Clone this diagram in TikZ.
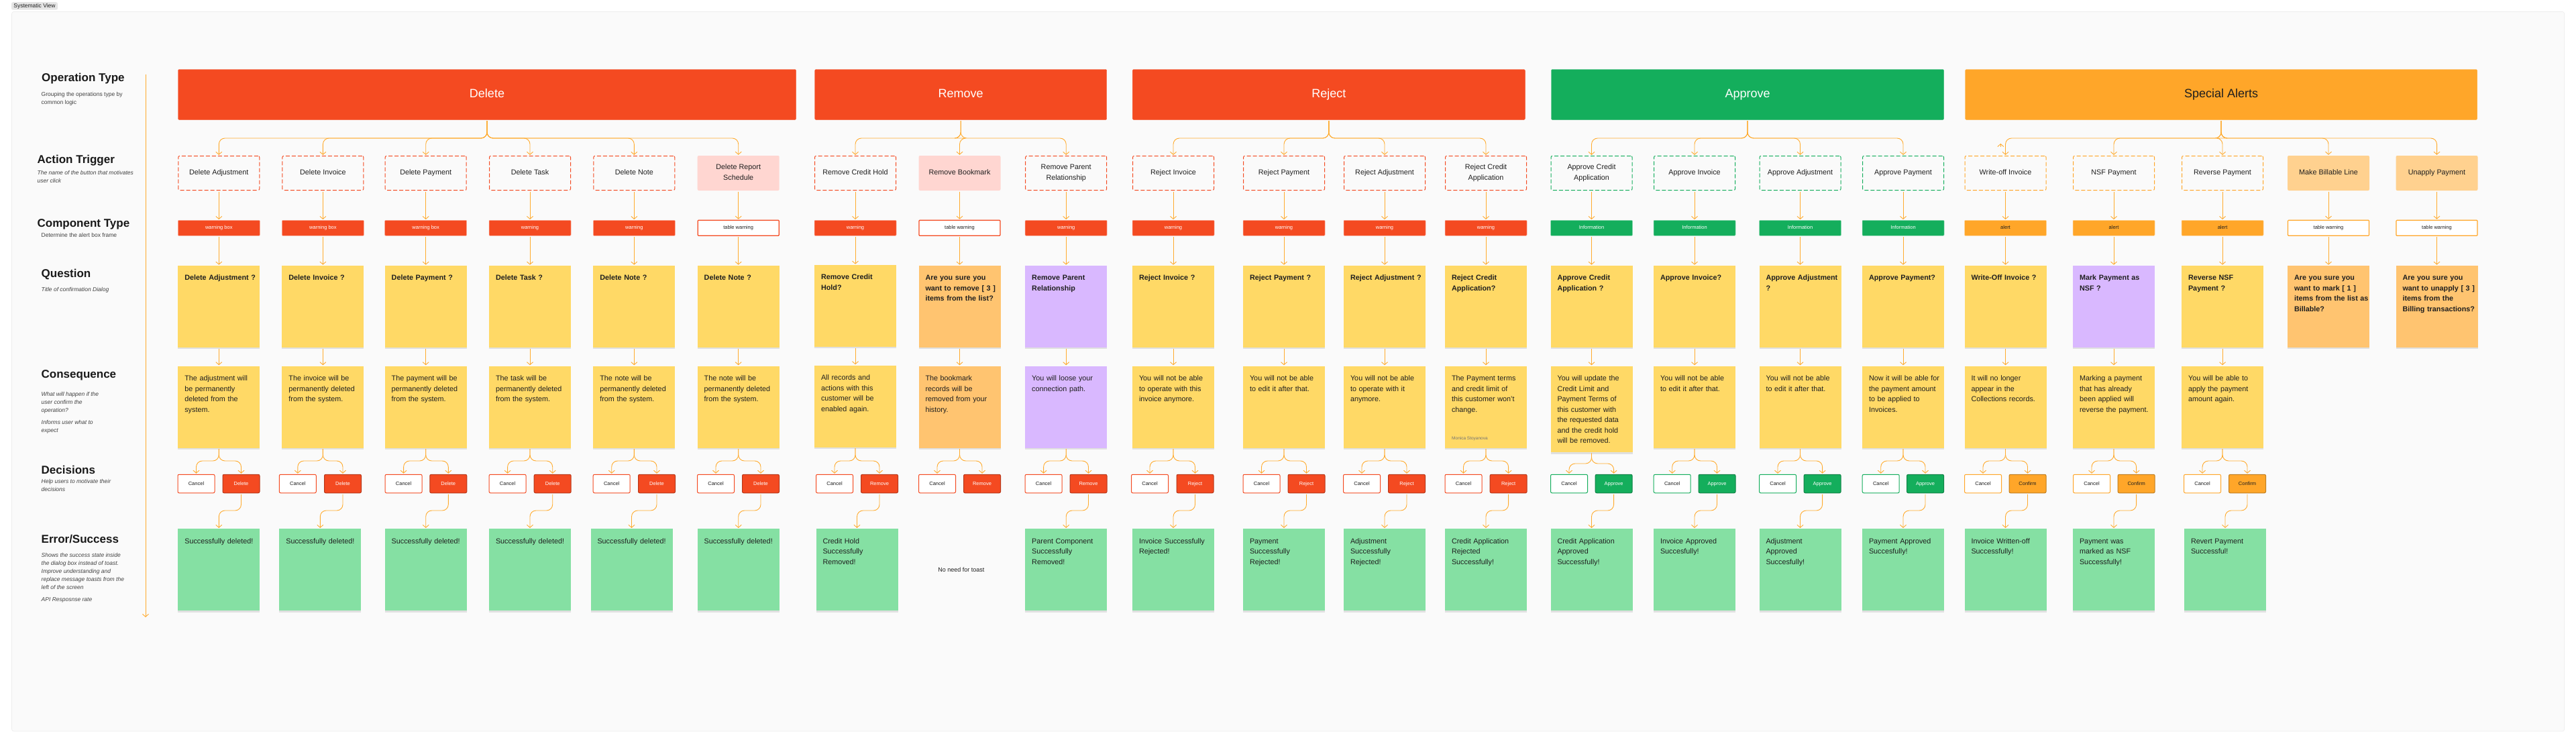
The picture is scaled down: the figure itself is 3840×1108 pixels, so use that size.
\documentclass[tikz,border=0pt]{standalone}
\usepackage{fontspec}
\setmainfont{Liberation Sans}
\usepackage{xcolor}
\usetikzlibrary{calc,arrows.meta,shadows}
\definecolor{redOp}{HTML}{F44A21}
\definecolor{greenOp}{HTML}{14AE5C}
\definecolor{orangeOp}{HTML}{FFA629}
\definecolor{yellowNote}{HTML}{FFD966}
\definecolor{orangeNote}{HTML}{FFC470}
\definecolor{purpleNote}{HTML}{D9B8FF}
\definecolor{greenNote}{HTML}{85E0A3}
\definecolor{pinkTrig}{HTML}{FFD6D1}
\definecolor{sandTrig}{HTML}{FFD18F}
\definecolor{panel}{HTML}{FAFAFA}
\definecolor{ink}{HTML}{1E1E1E}
\definecolor{flowLine}{HTML}{FFAB2E}
\tikzset{
  panelBox/.style={fill=panel, draw=black!7, line width=.6pt, rounded corners=3pt},
  tabBox/.style={fill=black!10, rounded corners=2.5pt, inner sep=0pt, minimum width=69pt, minimum height=11.5pt, text=ink, font=\fontsize{8.5}{10}\selectfont},
  rowTitle/.style={anchor=west, inner sep=0pt, text=black!90, font=\bfseries\fontsize{17}{20}\selectfont},
  rowNote/.style={anchor=north west, inner sep=0pt, align=left, text=black!75, font=\fontsize{8.5}{12}\selectfont},
  rowNoteIt/.style={rowNote, font=\itshape\fontsize{8.5}{12}\selectfont},
  opBox/.style={fill=#1, draw=#1, rounded corners=1.5pt, inner sep=0pt, minimum height=75pt, text height=13pt, text depth=4pt, text=white, font=\fontsize{18}{22}\selectfont},
  trigBox/.style={draw=#1, fill=panel, line width=1pt, dash pattern=on 6pt off 3pt, rounded corners=2pt, inner sep=0pt, minimum width=121pt, minimum height=51pt, align=center, text height=8pt, text depth=3pt, text=ink, font=\fontsize{10.8}{15.5}\selectfont},
  trigFill/.style={fill=#1, rounded corners=2pt, inner sep=0pt, minimum width=122pt, minimum height=52pt, align=center, text height=8pt, text depth=3pt, text=ink, font=\fontsize{10.8}{15.5}\selectfont},
  trigTwo/.style={text height=23.5pt},
  compBox/.style={fill=#1, draw=#1!45, line width=.5pt, rounded corners=1pt, inner sep=0pt, minimum width=122pt, minimum height=23pt, text height=5.5pt, text depth=1.5pt, text=white, font=\fontsize{7.5}{9}\selectfont},
  compLine/.style={fill=white, draw=#1, line width=1.2pt, rounded corners=1pt, inner sep=0pt, minimum width=121pt, minimum height=23pt, text height=5.5pt, text depth=1.5pt, text=ink, font=\fontsize{7.5}{9}\selectfont},
  sticky/.style={fill=#1, anchor=north, rectangle, inner xsep=0pt, inner ysep=0pt, text width=122pt, align=left, execute at begin node={\leftskip=10pt\relax}, text height=22pt, text depth=100pt, text=ink, drop shadow={shadow xshift=0pt, shadow yshift=-2.5pt, fill=black, opacity=.1}},
  askBox/.style={sticky=#1, font=\bfseries\fontsize{10.8}{15.5}\selectfont},
  noteBox/.style={sticky=#1, font=\fontsize{10.8}{15.5}\selectfont},
  cancelBtn/.style={fill=white, draw=#1, line width=1pt, rounded corners=2pt, inner sep=0pt, minimum width=55pt, minimum height=27.5pt, text height=5.5pt, text depth=1.5pt, text=ink, font=\fontsize{7.5}{9}\selectfont},
  actBtn/.style={fill=#1, draw=#1!75!black, line width=1pt, rounded corners=2pt, inner sep=0pt, minimum width=55pt, minimum height=27.5pt, text height=5.5pt, text depth=1.5pt, text=white, font=\fontsize{7.5}{9}\selectfont},
  flow/.style={draw=flowLine, line width=.9pt, shorten <=1.5pt, shorten >=1pt, -{Straight Barb[length=4pt,width=9pt]}},
  branch/.style={flow, rounded corners=9pt}
}
\begin{document}
\begin{tikzpicture}[x=1pt,y=-1pt]
\fill[white] (0,0) rectangle (3840,1108);
\useasboundingbox (0,0) rectangle (3840,1108);
\filldraw[panelBox] (17.5,17.5) rectangle (3822.7,1090);
\node[tabBox] (viewTab) at (51.5,9) {Systematic View};

\coordinate (axisTop) at (217,109);
\coordinate (axisEnd) at (217,921);
\coordinate (forkOp) at (0,206);
\coordinate (forkBtn) at (0,687);
\coordinate (forkBtnLow) at (0,691);
\coordinate (forkRes) at (0,761);
\coordinate (strayFoot) at (2982.3,220);
\coordinate (strayTip) at (2982.3,213);

\node[rowTitle] (titleOp) at (62,117) {Operation Type};
\node[rowNote] (noteOp) at (61.5,137) {Grouping the operations type by\\common logic};
\node[rowTitle] (titleTrig) at (55.5,239) {Action Trigger};
\node[rowNoteIt] (noteTrig) at (55.5,254) {The name of the button that motivates\\user click};
\node[rowTitle] (titleComp) at (55.5,334) {Component Type};
\node[rowNote] (noteComp) at (61.5,347.5) {Determine the alert box frame};
\node[rowTitle] (titleAsk) at (61.5,409.5) {Question};
\node[rowNoteIt] (noteAsk) at (61.5,428.5) {Title of confirmation Dialog};
\node[rowTitle] (titleNote) at (61.5,559) {Consequence};
\node[rowNoteIt] (noteNote) at (61.5,584.5) {What will happen if the\\user confirm the\\operation?};
\node[rowNoteIt] (noteNoteB) at (61.5,626.5) {Informs user what to\\expect};
\node[rowTitle] (titleBtn) at (61.5,700) {Decisions};
\node[rowNoteIt] (noteBtn) at (61.5,714) {Help users to motivate their\\decisions};
\node[rowTitle] (titleRes) at (61.5,804) {Error/Success};
\node[rowNoteIt] (noteRes) at (61.5,824) {Shows the success state inside\\the dialog box instead of toast.\\Improve understanding and\\replace message toasts from the\\left of the screen};
\node[rowNoteIt] (noteResB) at (61.5,890) {API Resposnse rate};

\node[opBox=redOp, minimum width=921pt] (opDelete) at (726,141) {Delete};
\node[opBox=redOp, minimum width=435pt] (opRemove) at (1432.2,141) {Remove};
\node[opBox=redOp, minimum width=585pt] (opReject) at (1980.8,141) {Reject};
\node[opBox=greenOp, minimum width=585pt] (opApprove) at (2605,141) {Approve};
\node[opBox=orangeOp, minimum width=763pt, text=ink] (opSpecial) at (3311,141) {Special Alerts};

\node[trigBox=redOp] (trig1) at (326.3,258) {Delete Adjustment};
\node[trigBox=redOp] (trig2) at (481.4,258) {Delete Invoice};
\node[trigBox=redOp] (trig3) at (634.7,258) {Delete Payment};
\node[trigBox=redOp] (trig4) at (790,258) {Delete Task};
\node[trigBox=redOp] (trig5) at (945.3,258) {Delete Note};
\node[trigFill=pinkTrig, trigTwo] (trig6) at (1100.7,258) {Delete Report\\Schedule};
\node[trigBox=redOp] (trig7) at (1275,258) {Remove Credit Hold};
\node[trigFill=pinkTrig] (trig8) at (1430.5,258) {Remove Bookmark};
\node[trigBox=redOp, trigTwo] (trig9) at (1589.2,258) {Remove Parent\\Relationship};
\node[trigBox=redOp] (trig10) at (1749,258) {Reject Invoice};
\node[trigBox=redOp] (trig11) at (1914,258) {Reject Payment};
\node[trigBox=redOp] (trig12) at (2064,258) {Reject Adjustment};
\node[trigBox=redOp, trigTwo] (trig13) at (2215,258) {Reject Credit\\Application};
\node[trigBox=greenOp, trigTwo] (trig14) at (2372.5,258) {Approve Credit\\Application};
\node[trigBox=greenOp] (trig15) at (2526,258) {Approve Invoice};
\node[trigBox=greenOp] (trig16) at (2683.5,258) {Approve Adjustment};
\node[trigBox=greenOp] (trig17) at (2837,258) {Approve Payment};
\node[trigBox=orangeOp] (trig18) at (2989.5,258) {Write-off Invoice};
\node[trigBox=orangeOp] (trig19) at (3151,258) {NSF Payment};
\node[trigBox=orangeOp] (trig20) at (3313,258) {Reverse Payment};
\node[trigFill=sandTrig] (trig21) at (3471,258) {Make Billable Line};
\node[trigFill=sandTrig] (trig22) at (3632.5,258) {Unapply Payment};

\node[compBox=redOp] (comp1) at (326.3,339.8) {warning box};
\node[compBox=redOp] (comp2) at (481.4,339.8) {warning box};
\node[compBox=redOp] (comp3) at (634.7,339.8) {warning box};
\node[compBox=redOp] (comp4) at (790,339.8) {warning};
\node[compBox=redOp] (comp5) at (945.3,339.8) {warning};
\node[compLine=redOp] (comp6) at (1100.7,339.8) {table warning};
\node[compBox=redOp] (comp7) at (1275,339.8) {warning};
\node[compLine=redOp] (comp8) at (1430.5,339.8) {table warning};
\node[compBox=redOp] (comp9) at (1589.2,339.8) {warning};
\node[compBox=redOp] (comp10) at (1749,339.8) {warning};
\node[compBox=redOp] (comp11) at (1914,339.8) {warning};
\node[compBox=redOp] (comp12) at (2064,339.8) {warning};
\node[compBox=redOp] (comp13) at (2215,339.8) {warning};
\node[compBox=greenOp] (comp14) at (2372.5,339.8) {Information};
\node[compBox=greenOp] (comp15) at (2526,339.8) {Information};
\node[compBox=greenOp] (comp16) at (2683.5,339.8) {Information};
\node[compBox=greenOp] (comp17) at (2837,339.8) {Information};
\node[compBox=orangeOp, text=ink] (comp18) at (2989.5,339.8) {alert};
\node[compBox=orangeOp, text=ink] (comp19) at (3151,339.8) {alert};
\node[compBox=orangeOp, text=ink] (comp20) at (3313,339.8) {alert};
\node[compLine=orangeOp] (comp21) at (3471,339.8) {table warning};
\node[compLine=orangeOp] (comp22) at (3632.5,339.8) {table warning};

\node[askBox=yellowNote] (ask1) at (326.3,395.7) {Delete Adjustment ?};
\node[askBox=yellowNote] (ask2) at (481.4,395.7) {Delete Invoice ?};
\node[askBox=yellowNote] (ask3) at (634.7,395.7) {Delete Payment ?};
\node[askBox=yellowNote] (ask4) at (790,395.7) {Delete Task ?};
\node[askBox=yellowNote] (ask5) at (945.3,395.7) {Delete Note ?};
\node[askBox=yellowNote] (ask6) at (1100.7,395.7) {Delete Note ?};
\node[askBox=yellowNote] (ask7) at (1275,394.7) {Remove Credit\\Hold?};
\node[askBox=orangeNote] (ask8) at (1430.5,395.7) {Are you sure you\\want to remove [ 3 ]\\items from the list?};
\node[askBox=purpleNote] (ask9) at (1589.2,395.7) {Remove Parent\\Relationship};
\node[askBox=yellowNote] (ask10) at (1749,395.7) {Reject Invoice ?};
\node[askBox=yellowNote] (ask11) at (1914,395.7) {Reject Payment ?};
\node[askBox=yellowNote] (ask12) at (2064,395.7) {Reject Adjustment ?};
\node[askBox=yellowNote] (ask13) at (2215,395.7) {Reject Credit\\Application?};
\node[askBox=yellowNote] (ask14) at (2372.5,395.7) {Approve Credit\\Application ?};
\node[askBox=yellowNote] (ask15) at (2526,395.7) {Approve Invoice?};
\node[askBox=yellowNote] (ask16) at (2683.5,395.7) {Approve Adjustment\\?};
\node[askBox=yellowNote] (ask17) at (2837,395.7) {Approve Payment?};
\node[askBox=yellowNote] (ask18) at (2989.5,395.7) {Write-Off Invoice ?};
\node[askBox=purpleNote] (ask19) at (3151,395.7) {Mark Payment as\\NSF ?};
\node[askBox=yellowNote] (ask20) at (3313,395.7) {Reverse NSF\\Payment ?};
\node[askBox=orangeNote] (ask21) at (3471,395.7) {Are you sure you\\want to mark [ 1 ]\\items from the list as\\Billable?};
\node[askBox=orangeNote] (ask22) at (3632.5,395.7) {Are you sure you\\want to unapply [ 3 ]\\items from the\\Billing transactions?};

\node[noteBox=yellowNote] (note1) at (326.3,545.3) {The adjustment will\\be permanently\\deleted from the\\system.};
\node[noteBox=yellowNote] (note2) at (481.4,545.3) {The invoice will be\\permanently deleted\\from the system.};
\node[noteBox=yellowNote] (note3) at (634.7,545.3) {The payment will be\\permanently deleted\\from the system.};
\node[noteBox=yellowNote] (note4) at (790,545.3) {The task will be\\permanently deleted\\from the system.};
\node[noteBox=yellowNote] (note5) at (945.3,545.3) {The note will be\\permanently deleted\\from the system.};
\node[noteBox=yellowNote] (note6) at (1100.7,545.3) {The note will be\\permanently deleted\\from the system.};
\node[noteBox=yellowNote] (note7) at (1275,544.3) {All records and\\actions with this\\customer will be\\enabled again.};
\node[noteBox=orangeNote] (note8) at (1430.5,545.3) {The bookmark\\records will be\\removed from your\\history.};
\node[noteBox=purpleNote] (note9) at (1589.2,545.3) {You will loose your\\connection path.};
\node[noteBox=yellowNote] (note10) at (1749,545.3) {You will not be able\\to operate with this\\invoice anymore.};
\node[noteBox=yellowNote] (note11) at (1914,545.3) {You will not be able\\to edit it after that.};
\node[noteBox=yellowNote] (note12) at (2064,545.3) {You will not be able\\to operate with it\\anymore.};
\node[noteBox=yellowNote] (note13) at (2215,545.3) {The Payment terms\\and credit limit of\\this customer won't\\change.};
\node[noteBox=yellowNote, text depth=106.5pt] (note14) at (2372.5,545.3) {You will update the\\Credit Limit and\\Payment Terms of\\this customer with\\the requested data\\and the credit hold\\will be removed.};
\node[noteBox=yellowNote] (note15) at (2526,545.3) {You will not be able\\to edit it after that.};
\node[noteBox=yellowNote] (note16) at (2683.5,545.3) {You will not be able\\to edit it after that.};
\node[noteBox=yellowNote] (note17) at (2837,545.3) {Now it will be able for\\the payment amount\\to be applied to\\Invoices.};
\node[noteBox=yellowNote] (note18) at (2989.5,545.3) {It will no longer\\appear in the\\Collections records.};
\node[noteBox=yellowNote] (note19) at (3151,545.3) {Marking a payment\\that has already\\been applied will\\reverse the payment.};
\node[noteBox=yellowNote] (note20) at (3313,545.3) {You will be able to\\apply the payment\\amount again.};
\node[anchor=west, inner sep=0pt, text=black!55, font=\fontsize{6.5}{8}\selectfont] (noteName) at (2164,653.5) {Monica Stoyanova};

\node[cancelBtn=redOp] (can1) at (292.5,721) {Cancel};
\node[actBtn=redOp] (act1) at (359.5,721) {Delete};
\node[cancelBtn=redOp] (can2) at (443.8,721) {Cancel};
\node[actBtn=redOp] (act2) at (511,721) {Delete};
\node[cancelBtn=redOp] (can3) at (601.6,721) {Cancel};
\node[actBtn=redOp] (act3) at (668.3,721) {Delete};
\node[cancelBtn=redOp] (can4) at (756.6,721) {Cancel};
\node[actBtn=redOp] (act4) at (823.7,721) {Delete};
\node[cancelBtn=redOp] (can5) at (911.7,721) {Cancel};
\node[actBtn=redOp] (act5) at (979,721) {Delete};
\node[cancelBtn=redOp] (can6) at (1067,721) {Cancel};
\node[actBtn=redOp] (act6) at (1134,721) {Delete};
\node[cancelBtn=redOp] (can7) at (1244,721) {Cancel};
\node[actBtn=redOp] (act7) at (1311,721) {Remove};
\node[cancelBtn=redOp] (can8) at (1397,721) {Cancel};
\node[actBtn=redOp] (act8) at (1464,721) {Remove};
\node[cancelBtn=redOp] (can9) at (1555.6,721) {Cancel};
\node[actBtn=redOp] (act9) at (1622.5,721) {Remove};
\node[cancelBtn=redOp] (can10) at (1714,721) {Cancel};
\node[actBtn=redOp] (act10) at (1781.5,721) {Reject};
\node[cancelBtn=redOp] (can11) at (1880.5,721) {Cancel};
\node[actBtn=redOp] (act11) at (1947.5,721) {Reject};
\node[cancelBtn=redOp] (can12) at (2030,721) {Cancel};
\node[actBtn=redOp] (act12) at (2097,721) {Reject};
\node[cancelBtn=redOp] (can13) at (2181.5,721) {Cancel};
\node[actBtn=redOp] (act13) at (2248.6,721) {Reject};
\node[cancelBtn=greenOp] (can14) at (2339,721) {Cancel};
\node[actBtn=greenOp] (act14) at (2405.6,721) {Approve};
\node[cancelBtn=greenOp] (can15) at (2492.7,721) {Cancel};
\node[actBtn=greenOp] (act15) at (2559.5,721) {Approve};
\node[cancelBtn=greenOp] (can16) at (2650,721) {Cancel};
\node[actBtn=greenOp] (act16) at (2716.6,721) {Approve};
\node[cancelBtn=greenOp] (can17) at (2803.7,721) {Cancel};
\node[actBtn=greenOp] (act17) at (2870,721) {Approve};
\node[cancelBtn=orangeOp] (can18) at (2956,721) {Cancel};
\node[actBtn=orangeOp, text=ink] (act18) at (3022.5,721) {Confirm};
\node[cancelBtn=orangeOp] (can19) at (3118,721) {Cancel};
\node[actBtn=orangeOp, text=ink] (act19) at (3184.6,721) {Confirm};
\node[cancelBtn=orangeOp] (can20) at (3283,721) {Cancel};
\node[actBtn=orangeOp, text=ink] (act20) at (3350,721) {Confirm};

\node[noteBox=greenNote] (res1) at (326.3,788) {Successfully deleted!};
\node[noteBox=greenNote] (res2) at (477.3,788) {Successfully deleted!};
\node[noteBox=greenNote] (res3) at (634.7,788) {Successfully deleted!};
\node[noteBox=greenNote] (res4) at (790,788) {Successfully deleted!};
\node[noteBox=greenNote] (res5) at (941.5,788) {Successfully deleted!};
\node[noteBox=greenNote] (res6) at (1100.7,788) {Successfully deleted!};
\node[noteBox=greenNote] (res7) at (1277.5,788) {Credit Hold\\Successfully\\Removed!};
\node[inner sep=0pt, text=ink, font=\fontsize{9}{11}\selectfont] (resNone) at (1432.8,849) {No need for toast};
\node[noteBox=greenNote] (res9) at (1589.2,788) {Parent Component\\Successfully\\Removed!};
\node[noteBox=greenNote] (res10) at (1749,788) {Invoice Successfully\\Rejected!};
\node[noteBox=greenNote] (res11) at (1914,788) {Payment\\Successfully\\Rejected!};
\node[noteBox=greenNote] (res12) at (2064,788) {Adjustment\\Successfully\\Rejected!};
\node[noteBox=greenNote] (res13) at (2215,788) {Credit Application\\Rejected\\Successfully!};
\node[noteBox=greenNote] (res14) at (2372.5,788) {Credit Application\\Approved\\Successfully!};
\node[noteBox=greenNote] (res15) at (2526,788) {Invoice Approved\\Succesfully!};
\node[noteBox=greenNote] (res16) at (2683.5,788) {Adjustment\\Approved\\Succesfully!};
\node[noteBox=greenNote] (res17) at (2837,788) {Payment Approved\\Succesfully!};
\node[noteBox=greenNote] (res18) at (2989.5,788) {Invoice Written-off\\Successfully!};
\node[noteBox=greenNote] (res19) at (3151,788) {Payment was\\marked as NSF\\Successfully!};
\node[noteBox=greenNote] (res20) at (3317,788) {Revert Payment\\Successful!};

\draw[flow] (axisTop) -- (axisEnd);
\draw[flow] (strayFoot) -- (strayTip);

\draw[branch] (opDelete.south) -- (opDelete.south |- forkOp) -| (trig1.north);
\draw[branch] (opDelete.south) -- (opDelete.south |- forkOp) -| (trig2.north);
\draw[branch] (opDelete.south) -- (opDelete.south |- forkOp) -| (trig3.north);
\draw[branch] (opDelete.south) -- (opDelete.south |- forkOp) -| (trig4.north);
\draw[branch] (opDelete.south) -- (opDelete.south |- forkOp) -| (trig5.north);
\draw[branch] (opDelete.south) -- (opDelete.south |- forkOp) -| (trig6.north);
\draw[branch] (opRemove.south) -- (opRemove.south |- forkOp) -| (trig7.north);
\draw[branch] (opRemove.south) -- (opRemove.south |- forkOp) -| (trig8.north);
\draw[branch] (opRemove.south) -- (opRemove.south |- forkOp) -| (trig9.north);
\draw[branch] (opReject.south) -- (opReject.south |- forkOp) -| (trig10.north);
\draw[branch] (opReject.south) -- (opReject.south |- forkOp) -| (trig11.north);
\draw[branch] (opReject.south) -- (opReject.south |- forkOp) -| (trig12.north);
\draw[branch] (opReject.south) -- (opReject.south |- forkOp) -| (trig13.north);
\draw[branch] (opApprove.south) -- (opApprove.south |- forkOp) -| (trig14.north);
\draw[branch] (opApprove.south) -- (opApprove.south |- forkOp) -| (trig15.north);
\draw[branch] (opApprove.south) -- (opApprove.south |- forkOp) -| (trig16.north);
\draw[branch] (opApprove.south) -- (opApprove.south |- forkOp) -| (trig17.north);
\draw[branch] (opSpecial.south) -- (opSpecial.south |- forkOp) -| (trig18.north);
\draw[branch] (opSpecial.south) -- (opSpecial.south |- forkOp) -| (trig19.north);
\draw[branch] (opSpecial.south) -- (opSpecial.south |- forkOp) -| (trig20.north);
\draw[branch] (opSpecial.south) -- (opSpecial.south |- forkOp) -| (trig21.north);
\draw[branch] (opSpecial.south) -- (opSpecial.south |- forkOp) -| (trig22.north);

\draw[flow] (trig1) -- (comp1); \draw[flow] (comp1) -- (ask1); \draw[flow] (ask1) -- (note1);
\draw[flow] (trig2) -- (comp2); \draw[flow] (comp2) -- (ask2); \draw[flow] (ask2) -- (note2);
\draw[flow] (trig3) -- (comp3); \draw[flow] (comp3) -- (ask3); \draw[flow] (ask3) -- (note3);
\draw[flow] (trig4) -- (comp4); \draw[flow] (comp4) -- (ask4); \draw[flow] (ask4) -- (note4);
\draw[flow] (trig5) -- (comp5); \draw[flow] (comp5) -- (ask5); \draw[flow] (ask5) -- (note5);
\draw[flow] (trig6) -- (comp6); \draw[flow] (comp6) -- (ask6); \draw[flow] (ask6) -- (note6);
\draw[flow] (trig7) -- (comp7); \draw[flow] (comp7) -- (ask7); \draw[flow] (ask7) -- (note7);
\draw[flow] (trig8) -- (comp8); \draw[flow] (comp8) -- (ask8); \draw[flow] (ask8) -- (note8);
\draw[flow] (trig9) -- (comp9); \draw[flow] (comp9) -- (ask9); \draw[flow] (ask9) -- (note9);
\draw[flow] (trig10) -- (comp10); \draw[flow] (comp10) -- (ask10); \draw[flow] (ask10) -- (note10);
\draw[flow] (trig11) -- (comp11); \draw[flow] (comp11) -- (ask11); \draw[flow] (ask11) -- (note11);
\draw[flow] (trig12) -- (comp12); \draw[flow] (comp12) -- (ask12); \draw[flow] (ask12) -- (note12);
\draw[flow] (trig13) -- (comp13); \draw[flow] (comp13) -- (ask13); \draw[flow] (ask13) -- (note13);
\draw[flow] (trig14) -- (comp14); \draw[flow] (comp14) -- (ask14); \draw[flow] (ask14) -- (note14);
\draw[flow] (trig15) -- (comp15); \draw[flow] (comp15) -- (ask15); \draw[flow] (ask15) -- (note15);
\draw[flow] (trig16) -- (comp16); \draw[flow] (comp16) -- (ask16); \draw[flow] (ask16) -- (note16);
\draw[flow] (trig17) -- (comp17); \draw[flow] (comp17) -- (ask17); \draw[flow] (ask17) -- (note17);
\draw[flow] (trig18) -- (comp18); \draw[flow] (comp18) -- (ask18); \draw[flow] (ask18) -- (note18);
\draw[flow] (trig19) -- (comp19); \draw[flow] (comp19) -- (ask19); \draw[flow] (ask19) -- (note19);
\draw[flow] (trig20) -- (comp20); \draw[flow] (comp20) -- (ask20); \draw[flow] (ask20) -- (note20);
\draw[flow] (trig21) -- (comp21); \draw[flow] (comp21) -- (ask21);
\draw[flow] (trig22) -- (comp22); \draw[flow] (comp22) -- (ask22);

\draw[branch] (note1.south) -- (note1.south |- forkBtn) -| (can1.north);
\draw[branch] (note1.south) -- (note1.south |- forkBtn) -| (act1.north);
\draw[branch] (act1.south) -- (act1.south |- forkRes) -| (res1.north);
\draw[branch] (note2.south) -- (note2.south |- forkBtn) -| (can2.north);
\draw[branch] (note2.south) -- (note2.south |- forkBtn) -| (act2.north);
\draw[branch] (act2.south) -- (act2.south |- forkRes) -| (res2.north);
\draw[branch] (note3.south) -- (note3.south |- forkBtn) -| (can3.north);
\draw[branch] (note3.south) -- (note3.south |- forkBtn) -| (act3.north);
\draw[branch] (act3.south) -- (act3.south |- forkRes) -| (res3.north);
\draw[branch] (note4.south) -- (note4.south |- forkBtn) -| (can4.north);
\draw[branch] (note4.south) -- (note4.south |- forkBtn) -| (act4.north);
\draw[branch] (act4.south) -- (act4.south |- forkRes) -| (res4.north);
\draw[branch] (note5.south) -- (note5.south |- forkBtn) -| (can5.north);
\draw[branch] (note5.south) -- (note5.south |- forkBtn) -| (act5.north);
\draw[branch] (act5.south) -- (act5.south |- forkRes) -| (res5.north);
\draw[branch] (note6.south) -- (note6.south |- forkBtn) -| (can6.north);
\draw[branch] (note6.south) -- (note6.south |- forkBtn) -| (act6.north);
\draw[branch] (act6.south) -- (act6.south |- forkRes) -| (res6.north);
\draw[branch] (note7.south) -- (note7.south |- forkBtn) -| (can7.north);
\draw[branch] (note7.south) -- (note7.south |- forkBtn) -| (act7.north);
\draw[branch] (act7.south) -- (act7.south |- forkRes) -| (res7.north);
\draw[branch] (note8.south) -- (note8.south |- forkBtn) -| (can8.north);
\draw[branch] (note8.south) -- (note8.south |- forkBtn) -| (act8.north);
\draw[branch] (note9.south) -- (note9.south |- forkBtn) -| (can9.north);
\draw[branch] (note9.south) -- (note9.south |- forkBtn) -| (act9.north);
\draw[branch] (act9.south) -- (act9.south |- forkRes) -| (res9.north);
\draw[branch] (note10.south) -- (note10.south |- forkBtn) -| (can10.north);
\draw[branch] (note10.south) -- (note10.south |- forkBtn) -| (act10.north);
\draw[branch] (act10.south) -- (act10.south |- forkRes) -| (res10.north);
\draw[branch] (note11.south) -- (note11.south |- forkBtn) -| (can11.north);
\draw[branch] (note11.south) -- (note11.south |- forkBtn) -| (act11.north);
\draw[branch] (act11.south) -- (act11.south |- forkRes) -| (res11.north);
\draw[branch] (note12.south) -- (note12.south |- forkBtn) -| (can12.north);
\draw[branch] (note12.south) -- (note12.south |- forkBtn) -| (act12.north);
\draw[branch] (act12.south) -- (act12.south |- forkRes) -| (res12.north);
\draw[branch] (note13.south) -- (note13.south |- forkBtn) -| (can13.north);
\draw[branch] (note13.south) -- (note13.south |- forkBtn) -| (act13.north);
\draw[branch] (act13.south) -- (act13.south |- forkRes) -| (res13.north);
\draw[branch] (note14.south) -- (note14.south |- forkBtnLow) -| (can14.north);
\draw[branch] (note14.south) -- (note14.south |- forkBtnLow) -| (act14.north);
\draw[branch] (act14.south) -- (act14.south |- forkRes) -| (res14.north);
\draw[branch] (note15.south) -- (note15.south |- forkBtn) -| (can15.north);
\draw[branch] (note15.south) -- (note15.south |- forkBtn) -| (act15.north);
\draw[branch] (act15.south) -- (act15.south |- forkRes) -| (res15.north);
\draw[branch] (note16.south) -- (note16.south |- forkBtn) -| (can16.north);
\draw[branch] (note16.south) -- (note16.south |- forkBtn) -| (act16.north);
\draw[branch] (act16.south) -- (act16.south |- forkRes) -| (res16.north);
\draw[branch] (note17.south) -- (note17.south |- forkBtn) -| (can17.north);
\draw[branch] (note17.south) -- (note17.south |- forkBtn) -| (act17.north);
\draw[branch] (act17.south) -- (act17.south |- forkRes) -| (res17.north);
\draw[branch] (note18.south) -- (note18.south |- forkBtn) -| (can18.north);
\draw[branch] (note18.south) -- (note18.south |- forkBtn) -| (act18.north);
\draw[branch] (act18.south) -- (act18.south |- forkRes) -| (res18.north);
\draw[branch] (note19.south) -- (note19.south |- forkBtn) -| (can19.north);
\draw[branch] (note19.south) -- (note19.south |- forkBtn) -| (act19.north);
\draw[branch] (act19.south) -- (act19.south |- forkRes) -| (res19.north);
\draw[branch] (note20.south) -- (note20.south |- forkBtn) -| (can20.north);
\draw[branch] (note20.south) -- (note20.south |- forkBtn) -| (act20.north);
\draw[branch] (act20.south) -- (act20.south |- forkRes) -| (res20.north);
\end{tikzpicture}
\end{document}
